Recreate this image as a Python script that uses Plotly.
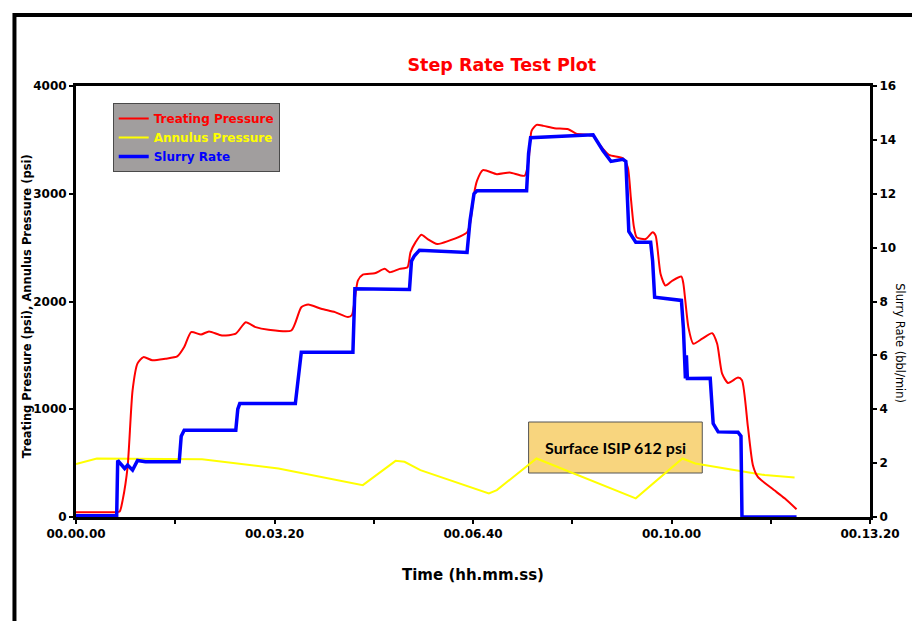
import plotly.graph_objects as go

# ---- data (time in seconds) ----
tp_time = [0, 40, 44, 47, 52, 57, 62, 68, 77, 90, 102, 109, 116, 126, 134, 147, 161, 171, 181, 194,
           217, 227, 234, 247, 261, 274, 278, 284, 289, 301, 311, 316, 326, 334, 337, 342, 348, 354,
           364, 374, 394, 397, 401, 404, 410, 424, 437, 452, 456, 459, 464, 471, 482, 496, 504, 521,
           527, 537, 551, 556, 559, 562, 565, 574, 581, 584, 589, 594, 601, 610, 612, 617, 622, 631,
           641, 646, 651, 657, 667, 671, 677, 682, 687, 701, 714, 726]
tp_psi = [45, 45, 50, 157, 466, 1176, 1426, 1484, 1454, 1469, 1490, 1577, 1716, 1694, 1722, 1685, 1701,
          1808, 1762, 1738, 1731, 1947, 1972, 1932, 1901, 1855, 1875, 2194, 2250, 2262, 2303, 2272,
          2303, 2318, 2456, 2549, 2620, 2581, 2534, 2558, 2642, 2720, 2997, 3120, 3220, 3182, 3197,
          3167, 3306, 3583, 3639, 3630, 3608, 3599, 3558, 3537, 3460, 3360, 3330, 3244, 2966, 2700,
          2595, 2580, 2642, 2611, 2256, 2148, 2194, 2231, 2164, 1762, 1608, 1655, 1706, 1608, 1330,
          1244, 1294, 1269, 836, 481, 373, 266, 173, 71]

an_time = [0, 21, 127, 204, 289, 322, 331, 347, 416, 424, 464, 564, 611, 624, 694, 724]
an_psi = [491, 543, 537, 451, 296, 521, 512, 435, 219, 250, 543, 173, 543, 497, 389, 367]

sr_time = [0, 41, 42, 45, 49, 52, 57, 62, 70, 104, 106, 109, 161, 163, 165, 221, 225, 227, 279, 281,
           336, 338, 341, 346, 394, 397, 401, 404, 454, 456, 458, 490, 521, 531, 539, 551, 554, 557,
           561, 564, 579, 581, 583, 610, 612, 614, 615, 616, 639, 642, 647, 667, 670, 671, 726]
sr_rate = [0.05, 0.05, 2.1, 1.95, 1.8, 1.93, 1.74, 2.1, 2.05, 2.05, 3.0, 3.22, 3.22, 4.0, 4.21, 4.21,
           5.6, 6.12, 6.12, 8.47, 8.45, 9.5, 9.7, 9.9, 9.82, 11.0, 12.0, 12.11, 12.11, 13.5, 14.08,
           14.15, 14.19, 13.6, 13.2, 13.28, 13.2, 10.6, 10.38, 10.2, 10.2, 9.5, 8.16, 8.04, 7.0, 5.14,
           6.0, 5.14, 5.15, 3.47, 3.16, 3.15, 3.0, 0.0, 0.0]

x_tickvals = [0, 200, 400, 600, 800]
x_ticktext = ["00.00.00", "00.03.20", "00.06.40", "00.10.00", "00.13.20"]

FONT = "DejaVu Sans"
L, T, W, H = 76, 86, 800, 431  # plot area in pixels


def px_x(px):
    return (px - L) / W


def px_y(py):
    return (T + H - py) / H


fig = go.Figure()
fig.add_trace(go.Scatter(
    x=an_time, y=an_psi, mode="lines", line=dict(color="#ffff00", width=2),
    name='<span style="color:#ffff00"><b>Annulus Pressure</b></span>', legendrank=2))
fig.add_trace(go.Scatter(
    x=tp_time, y=tp_psi, mode="lines", line=dict(color="#ff0000", width=2, shape="spline", smoothing=0.6),
    name='<span style="color:#ff0000"><b>Treating Pressure</b></span>', legendrank=1))
fig.add_trace(go.Scatter(
    x=sr_time, y=sr_rate, mode="lines", line=dict(color="#0000ff", width=3.5), yaxis="y2",
    name='<span style="color:#0000ff"><b>Slurry Rate</b></span>', legendrank=3))

axis_common = dict(showgrid=False, zeroline=False, showline=True, linecolor="black", linewidth=3,
                   ticks="outside", ticklen=4, tickwidth=2, tickcolor="black",
                   tickfont=dict(family=FONT, size=12, color="black", weight="bold"))

fig.update_layout(
    width=912, height=621,
    margin=dict(l=L, r=912 - L - W, t=T, b=621 - T - H),
    paper_bgcolor="white", plot_bgcolor="white",
    title=dict(text="Step Rate Test Plot", x=px_x(505), xref="paper", xanchor="center",
               y=1 - 65 / 621, yref="container", yanchor="middle",
               font=dict(family=FONT, size=17.5, color="#ff0000", weight="bold")),
    xaxis=dict(range=[0, 800], tickvals=x_tickvals, ticktext=x_ticktext, mirror=True,
               minor=dict(dtick=100, ticks="outside", ticklen=4, tickwidth=2, tickcolor="black"),
               title=dict(text="Time (hh.mm.ss)", standoff=30,
                          font=dict(family=FONT, size=15, color="black", weight="bold")),
               **axis_common),
    yaxis=dict(range=[0, 4000], dtick=1000, **axis_common),
    yaxis2=dict(range=[0, 16], dtick=2, overlaying="y", side="right", **axis_common),
    showlegend=True,
    legend=dict(x=px_x(113), y=px_y(103), xanchor="left", yanchor="top", bgcolor="#a19e9e",
                bordercolor="#4a4a4a", borderwidth=1, font=dict(family=FONT, size=12),
                itemwidth=30, tracegroupgap=0),
)

# axis titles
fig.add_annotation(text="<b>Treating Pressure (psi), Annulus Pressure (psi)</b>", xref="paper", yref="paper",
                   x=px_x(27), y=px_y(306), xanchor="center", yanchor="middle", textangle=-90,
                   showarrow=False, font=dict(family=FONT, size=11.5, color="black"))
fig.add_annotation(text="Slurry Rate (bbl/min)", xref="paper", yref="paper",
                   x=px_x(906), y=px_y(343), xanchor="center", yanchor="middle", textangle=90,
                   showarrow=False, font=dict(family=FONT, size=11.5, color="black"))

# ISIP callout: box below the traces, text on top
fig.add_shape(type="rect", xref="paper", yref="paper",
              x0=px_x(532), x1=px_x(707), y0=px_y(473), y1=px_y(422),
              fillcolor="#f8d57e", line=dict(color="#555555", width=1), layer="below")
fig.add_annotation(text="<b>Surface ISIP 612 psi</b>", xref="paper", yref="paper",
                   x=px_x(619.5), y=px_y(447), xanchor="center", yanchor="middle",
                   showarrow=False, font=dict(family="Lato", size=16, color="black"))

# outer frame
fig.add_shape(type="rect", xref="paper", yref="paper",
              x0=px_x(14), x1=1.3, y0=-0.5, y1=px_y(15),
              line=dict(color="black", width=4), layer="below")

fig.write_html("out.html")
